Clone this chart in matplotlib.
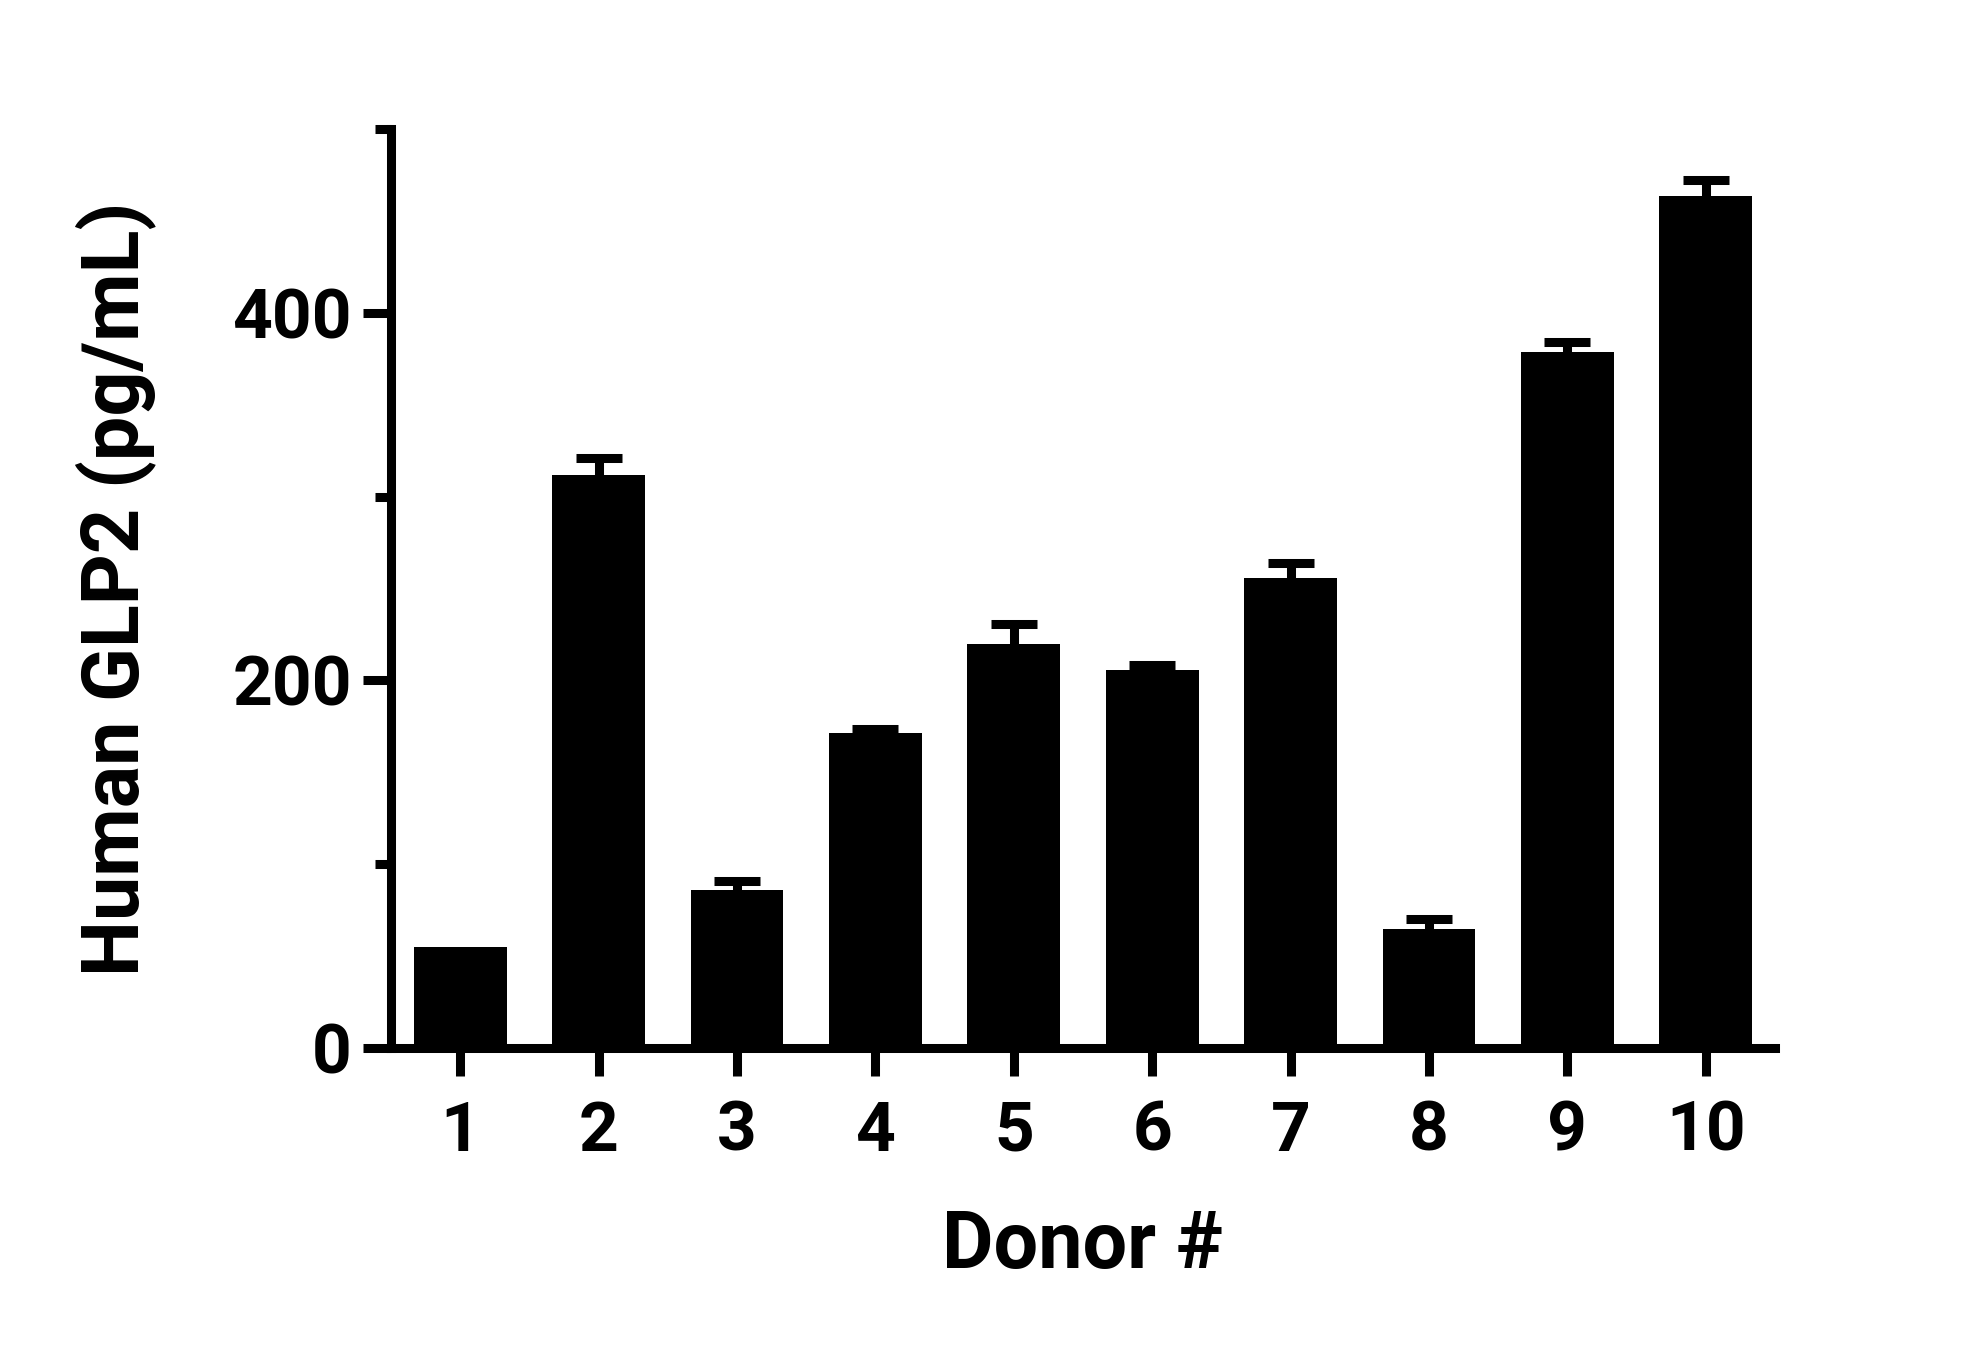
import matplotlib
matplotlib.use("Agg")
import matplotlib.pyplot as plt
from matplotlib.ticker import FixedLocator

plt.rcParams['font.family'] = ['Roboto', 'DejaVu Sans']
plt.rcParams['font.weight'] = 'bold'

donors = ["1", "2", "3", "4", "5", "6", "7", "8", "9", "10"]
means = [54.8, 312.0, 86.0, 171.3, 219.8, 205.8, 256.0, 64.8, 378.8, 463.7]
errors = [0.0, 9.3, 4.9, 2.4, 11.0, 2.5, 8.0, 5.3, 5.4, 8.6]
y_major = [0, 200, 400]
y_minor = [100, 300, 500]

fig = plt.figure(figsize=(19.83, 13.5), dpi=100)
ax = fig.add_axes([0.19718, 0.22370, 0.6979, 0.6806])

x = list(range(1, len(donors) + 1))
lw = 6.5
ax.bar(x, means, width=0.67, color='black', edgecolor='none', zorder=1)

# upper-only error bars (SEM)
ex = [xi for xi, e in zip(x, errors) if e > 0]
ey0 = [m for m, e in zip(means, errors) if e > 0]
ey1 = [m + e for m, e in zip(means, errors) if e > 0]
ax.vlines(ex, ey0, ey1, colors='black', linewidth=lw, zorder=1)
ax.plot(ex, ey1, linestyle='none', marker='_', markersize=33,
        markeredgewidth=lw, color='black', zorder=1)

ax.set_xlim(0.5, 10.5)
ax.set_ylim(0, 500)

for side in ['top', 'right']:
    ax.spines[side].set_visible(False)
for side in ['left', 'bottom']:
    ax.spines[side].set_linewidth(lw)
    ax.spines[side].set_color('black')

ax.set_xticks(x)
ax.set_xticklabels(donors)
ax.yaxis.set_major_locator(FixedLocator(y_major))
ax.yaxis.set_minor_locator(FixedLocator(y_minor))
ax.set_yticklabels([str(v) for v in y_major])

ax.tick_params(axis='both', which='major', direction='out', length=20.2,
               width=lw, color='black', labelsize=50)
ax.tick_params(axis='x', which='major', pad=17)
ax.tick_params(axis='y', which='major', pad=8)
ax.tick_params(axis='y', which='minor', direction='out', length=11.5,
               width=lw, color='black')

for lab in ax.get_xticklabels() + ax.get_yticklabels():
    lab.set_fontweight('bold')

ax.set_xlabel("Donor #", fontsize=57, fontweight='bold', labelpad=32)
ax.set_ylabel("Human GLP2 (pg/mL)", fontsize=57, fontweight='bold', labelpad=55)

fig.savefig("out.png", dpi=100, facecolor='white')
